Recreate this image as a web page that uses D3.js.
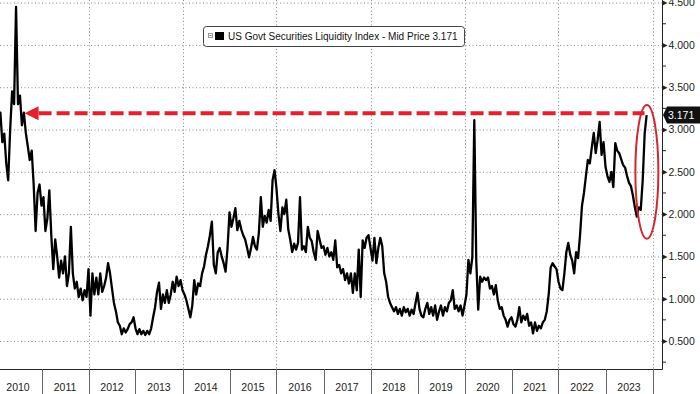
<!DOCTYPE html>
<html>
<head>
<meta charset="utf-8">
<script src="https://cdn.jsdelivr.net/npm/d3@7"></script>
<style>
    body { margin: 0; background: #fff; }
    svg { display: block; font-family: "Liberation Sans", Arial, sans-serif; }
</style>
</head>
<body>
<div id="chart"></div>
<script>
// semi-monthly readings, one array per year
const y2010 = [2.9, 3.1, 3.0, 3.2, 2.85, 2.95, 2.6, 2.4, 3.0, 3.45, 3.3, 4.45, 3.3, 3.4, 3.05, 3.2, 2.96, 2.8, 2.64, 2.75, 2.35, 1.8, 2.25, 2.35];
const y2011 = [2.1, 2.2, 1.8, 1.95, 2.28, 1.75, 1.35, 1.7, 1.5, 1.25, 1.45, 1.3, 1.5, 1.15, 1.3, 1.85, 1.3, 1.12, 1.2, 1.02, 1.12, 0.98, 1.1, 1.02];
const y2012 = [1.35, 0.8, 1.3, 1.05, 1.25, 1.05, 1.3, 1.08, 1.15, 1.25, 1.42, 1.3, 1.12, 0.95, 0.85, 0.72, 0.68, 0.58, 0.65, 0.6, 0.64, 0.7, 0.72, 0.78];
const y2013 = [0.65, 0.58, 0.64, 0.58, 0.62, 0.57, 0.62, 0.58, 0.65, 0.78, 0.9, 1.08, 1.19, 0.88, 1.05, 0.95, 1.1, 0.95, 1.05, 1.2, 1.08, 1.26, 1.15, 1.22];
const y2014 = [1.1, 1.05, 0.98, 0.88, 0.78, 0.92, 1.22, 1.05, 1.18, 1.15, 1.3, 1.38, 1.52, 1.62, 1.75, 1.91, 1.4, 1.3, 1.55, 1.6, 1.5, 1.42, 1.32, 1.6];
const y2015 = [2.02, 1.85, 1.95, 2.07, 1.81, 1.92, 1.82, 1.75, 1.7, 1.6, 1.49, 1.6, 1.73, 1.62, 1.58, 1.78, 2.2, 1.85, 1.98, 1.9, 2.05, 1.92, 2.4, 2.52];
const y2016 = [2.3, 2.0, 1.8, 2.08, 2.0, 2.17, 1.82, 1.7, 1.55, 1.65, 1.58, 1.66, 2.2, 1.58, 1.62, 1.55, 1.85, 1.72, 1.68, 1.55, 1.46, 1.8, 1.7, 1.6];
const y2017 = [1.62, 1.52, 1.6, 1.5, 1.55, 1.46, 1.69, 1.37, 1.4, 1.3, 1.35, 1.22, 1.3, 1.18, 1.3, 1.07, 1.3, 1.1, 1.58, 1.02, 1.69, 1.6, 1.72, 1.75];
const y2018 = [1.6, 1.45, 1.72, 1.42, 1.6, 1.72, 1.62, 1.3, 1.2, 1.02, 0.95, 0.9, 0.85, 0.9, 0.82, 0.88, 0.8, 0.9, 0.84, 0.88, 0.8, 0.87, 0.82, 0.95];
const y2019 = [1.07, 0.88, 0.8, 0.78, 0.88, 0.95, 0.82, 0.9, 0.8, 0.92, 0.75, 0.85, 0.92, 0.8, 0.9, 0.85, 0.95, 0.98, 1.1, 0.88, 0.92, 0.85, 0.92, 0.8];
const y2020 = [0.92, 1.05, 1.46, 1.3, 1.49, 3.11, 1.45, 0.87, 1.26, 1.2, 1.25, 1.22, 1.25, 1.12, 1.15, 1.05, 1.16, 0.98, 0.88, 0.9, 0.8, 0.75, 0.67, 0.75];
const y2021 = [0.78, 0.7, 0.67, 0.75, 0.9, 0.72, 0.8, 0.75, 0.82, 0.68, 0.72, 0.59, 0.72, 0.62, 0.68, 0.65, 0.72, 0.75, 0.85, 1.05, 1.37, 1.42, 1.38, 1.35];
const y2022 = [1.2, 1.12, 1.1, 1.3, 1.55, 1.66, 1.52, 1.45, 1.3, 1.55, 1.48, 1.75, 2.1, 2.25, 2.45, 2.64, 2.6, 2.79, 2.96, 2.72, 2.88, 3.09, 2.7, 2.85];
const y2023 = [2.56, 2.45, 2.38, 2.5, 2.32, 2.84, 2.75, 2.72, 2.65, 2.58, 2.55, 2.45, 2.37, 2.33, 2.22, 2.08, 1.97, 2.08, 2.05, 2.4, 2.95, 3.171];

const yearLabels = ["2010", "2011", "2012", "2013", "2014", "2015", "2016", "2017", "2018", "2019", "2020", "2021", "2022", "2023"];
const gridYears = [2012, 2014, 2016, 2018, 2020, 2022, 2024];
const yTicks = [0.5, 1.0, 1.5, 2.0, 2.5, 3.0, 3.5, 4.0, 4.5];
const yMinorTicks = [0.25, 0.75, 1.25, 1.75, 2.25, 2.75, 3.25, 3.75, 4.25];
const seriesName = "US Govt Securities Liquidity Index - Mid Price";
const lastValue = 3.171;

const W = 700, H = 394;
const plot = {left: 0, right: 662, top: 0, bottom: 369};

const svg = d3.select("#chart").append("svg")
    .attr("width", W)
    .attr("height", H);

const x = d3.scaleLinear().domain([2010, 2024]).range([-5.5, 652.5]);
const y = d3.scaleLinear().domain([0.169, 4.531]).range([plot.bottom, plot.top]);

// flatten the yearly arrays into one series
const byYear = [y2010, y2011, y2012, y2013, y2014, y2015, y2016, y2017, y2018, y2019, y2020, y2021, y2022, y2023];
const data = [];
byYear.forEach((arr, k) => {
    arr.forEach((v, i) => data.push({t: 2010 + k + i / 24, v: v}));
});

svg.append("clipPath").attr("id", "clip")
    .append("rect")
    .attr("x", plot.left).attr("y", plot.top)
    .attr("width", plot.right - plot.left)
    .attr("height", plot.bottom - plot.top);

// dotted grid
svg.append("g")
    .selectAll("line")
    .data(yTicks)
    .join("line")
    .attr("x1", plot.left).attr("x2", plot.right)
    .attr("y1", d => y(d) + 0.5).attr("y2", d => y(d) + 0.5)
    .attr("stroke", "#8a8a8a")
    .attr("stroke-dasharray", "1,2.5");

svg.append("g")
    .selectAll("line")
    .data(gridYears)
    .join("line")
    .attr("x1", d => Math.round(x(d)) + 0.5).attr("x2", d => Math.round(x(d)) + 0.5)
    .attr("y1", plot.top).attr("y2", plot.bottom)
    .attr("stroke", "#8a8a8a")
    .attr("stroke-dasharray", "1,2.5");

// the series
const line = d3.line()
    .x(d => x(d.t))
    .y(d => y(d.v));

svg.append("path")
    .datum(data)
    .attr("clip-path", "url(#clip)")
    .attr("d", line)
    .attr("fill", "none")
    .attr("stroke", "#000")
    .attr("stroke-width", 2.3)
    .attr("stroke-linejoin", "round");

// red dashed arrow at the latest level
const arrowY = y(lastValue + 0.02);
const arrowTip = x(2010.64);
svg.append("line")
    .attr("x1", arrowTip + 14).attr("x2", x(2023.83))
    .attr("y1", arrowY).attr("y2", arrowY)
    .attr("stroke", "#e3202b")
    .attr("stroke-width", 4)
    .attr("stroke-dasharray", "13,5");
svg.append("path")
    .attr("d", `M${arrowTip},${arrowY} L${arrowTip + 14},${arrowY - 7} L${arrowTip + 14},${arrowY + 7} Z`)
    .attr("fill", "#e3202b");

// red ellipse around the recent jump
svg.append("ellipse")
    .attr("cx", x(2023.88))
    .attr("cy", y(2.5))
    .attr("rx", 11.5)
    .attr("ry", y(1.71) - y(2.5))
    .attr("fill", "none")
    .attr("stroke", "#d3262e")
    .attr("stroke-width", 2);

// frame: bottom line and right axis
svg.append("line")
    .attr("x1", plot.left).attr("x2", plot.right + 0.5)
    .attr("y1", plot.bottom + 0.5).attr("y2", plot.bottom + 0.5)
    .attr("stroke", "#222");

const yAxis = svg.append("g")
    .attr("transform", `translate(${plot.right + 0.5},0)`)
    .call(d3.axisRight(y).tickValues(yTicks).tickSize(0).tickPadding(6).tickFormat(d3.format(".3f")));
yAxis.select(".domain").attr("stroke", "#222").attr("d", `M0,${plot.top}V${plot.bottom + 0.5}`);
yAxis.selectAll(".tick text")
    .attr("font-size", 10.5)
    .attr("font-family", "Liberation Sans, Arial, sans-serif")
    .attr("fill", "#222");
yAxis.selectAll(".tick")
    .append("path")
    .attr("d", "M0,-2.5L5,0L0,2.5Z")
    .attr("fill", "#222");

svg.append("g")
    .selectAll("line")
    .data(yMinorTicks)
    .join("line")
    .attr("x1", plot.right).attr("x2", plot.right + 4)
    .attr("y1", d => y(d)).attr("y2", d => y(d))
    .attr("stroke", "#222");

// year band along the bottom
const years = yearLabels.map(Number);
svg.append("g")
    .selectAll("line")
    .data(years.slice(1).concat([2024]))
    .join("line")
    .attr("x1", d => Math.round(x(d)) + 0.5).attr("x2", d => Math.round(x(d)) + 0.5)
    .attr("y1", plot.bottom).attr("y2", H)
    .attr("stroke", "#666");

svg.append("g")
    .selectAll("text")
    .data(yearLabels)
    .join("text")
    .attr("x", d => x(+d + 0.5))
    .attr("y", 391)
    .attr("text-anchor", "middle")
    .attr("font-size", 10.5)
    .attr("fill", "#222")
    .text(d => d);

// legend
const legend = svg.append("g");
legend.append("rect")
    .attr("x", 203.5).attr("y", 26.5)
    .attr("width", 261).attr("height", 20)
    .attr("rx", 3)
    .attr("fill", "#fff")
    .attr("stroke", "#444");
legend.append("rect")
    .attr("x", 208.5).attr("y", 33.5)
    .attr("width", 4).attr("height", 4)
    .attr("fill", "#fff")
    .attr("stroke", "#999");
legend.append("line")
    .attr("x1", 209.5).attr("x2", 211.5)
    .attr("y1", 35.5).attr("y2", 35.5)
    .attr("stroke", "#777");
legend.append("rect")
    .attr("x", 215).attr("y", 32)
    .attr("width", 9).attr("height", 8)
    .attr("fill", "#000");
legend.append("text")
    .attr("x", 228).attr("y", 40)
    .attr("font-size", 10)
    .attr("fill", "#111")
    .text(`${seriesName} ${lastValue}`);

// last value tag
const tagY = y(lastValue);
svg.append("path")
    .attr("d", `M${plot.right + 1},${tagY} L${plot.right + 5},${tagY - 8.5} L${W},${tagY - 8.5} L${W},${tagY + 8.5} L${plot.right + 5},${tagY + 8.5} Z`)
    .attr("fill", "#111");
svg.append("text")
    .attr("x", plot.right + 6)
    .attr("y", tagY + 3.8)
    .attr("font-size", 10.5)
    .attr("fill", "#fff")
    .text(lastValue);
</script>
</body>
</html>
